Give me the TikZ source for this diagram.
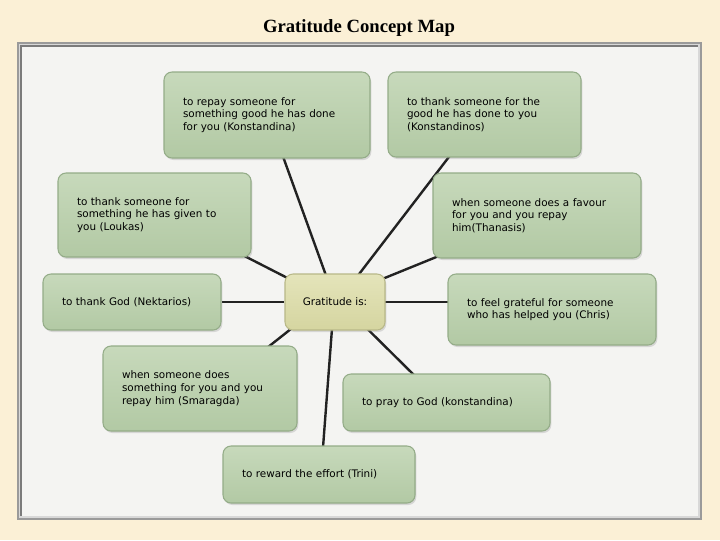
\documentclass[tikz,border=0pt]{standalone}
\usepackage{fontspec}
\setmainfont{DejaVu Sans}
\newfontfamily\titlefont{Liberation Serif}
\usetikzlibrary{calc,shadows,backgrounds}
\definecolor{parch}{HTML}{FBF0D6}
\definecolor{panelfill}{HTML}{F4F4F2}
\definecolor{frameout}{HTML}{9A9A9A}
\definecolor{framehi}{HTML}{D8D8D8}
\definecolor{gtop}{HTML}{C7D9BB}
\definecolor{gbot}{HTML}{B2C9A4}
\definecolor{gline}{HTML}{94AC88}
\definecolor{ytop}{HTML}{E4E4BA}
\definecolor{ybot}{HTML}{D5D5A0}
\definecolor{yline}{HTML}{B8B888}
\definecolor{conncol}{HTML}{222222}
\tikzset{
  gbox/.style={draw=gline, line width=0.8pt, rounded corners=6pt,
    top color=gtop, bottom color=gbot,
    drop shadow={opacity=0.25, shadow xshift=1pt, shadow yshift=-1.5pt},
    inner xsep=14.25pt, inner ysep=0pt, align=left, text=black},
  ybox/.style={gbox, draw=yline, top color=ytop, bottom color=ybot, align=center, inner xsep=2pt},
  conn/.style={draw=conncol, line width=1.8pt}
}
\begin{document}
\begin{tikzpicture}[x=0.75pt,y=-0.75pt,font=\fontsize{7.8}{9.5}\selectfont]
\useasboundingbox (0,0) rectangle (720,540);

\node[font=\titlefont\bfseries\fontsize{14}{16}\selectfont] (title) at (359,28) {Gratitude Concept Map};

% nodes
\node[gbox, minimum width=154.5pt, minimum height=64.5pt, text width=126pt] (a1) at (267,115)
  {to repay someone for\\something good he has done\\for you (Konstandina)};
\node[gbox, minimum width=144.75pt, minimum height=63.75pt, text width=116.25pt] (a2) at (484.5,114.5)
  {to thank someone for the\\good he has done to you\\(Konstandinos)};
\node[gbox, minimum width=144.75pt, minimum height=63pt, text width=116.25pt] (a3) at (154.5,215)
  {to thank someone for\\something he has given to\\you (Loukas)};
\node[gbox, minimum width=156pt, minimum height=63.75pt, text width=127.5pt] (a4) at (537,215.5)
  {when someone does a favour\\for you and you repay\\him(Thanasis)};
\node[gbox, minimum width=133.5pt, minimum height=42pt, text width=105pt] (a5) at (132,302)
  {to thank God (Nektarios)};
\node[ybox, minimum width=75pt, minimum height=42pt] (c) at (335,302)
  {Gratitude is:};
\node[gbox, minimum width=156pt, minimum height=53.25pt, text width=127.5pt] (a7) at (552,309.5)
  {to feel grateful for someone\\who has helped you (Chris)};
\node[gbox, minimum width=145.5pt, minimum height=63.75pt, text width=117pt] (a8) at (200,388.5)
  {when someone does\\something for you and you\\repay him (Smaragda)\\[2pt]};
\node[gbox, minimum width=155.25pt, minimum height=42.75pt, text width=126.75pt] (a9) at (446.5,402.5)
  {to pray to God (konstandina)};
\node[gbox, minimum width=144pt, minimum height=42.75pt, text width=115.5pt] (a10) at (319,474.5)
  {to reward the effort (Trini)};

\begin{scope}[on background layer]
  \fill[parch] (0,0) rectangle (720,540);
  \fill[frameout] (17,42) rectangle (702,520);
  \fill[framehi] (19,44) rectangle (700,518);
  \fill[panelfill] (21,46) rectangle (698,516);
  \draw[frameout!80!black, line width=1pt] (21,516) -- (21,46) -- (698,46);
  % connectors
  \draw[conn] ($(c.north)+(-9,2)$) -- ($(a1.south)+(16,-2)$);
  \draw[conn] ($(c.north)+(23,2)$) -- ($(a2.south)+(-34.5,-2)$);
  \draw[conn] ($(c.north west)+(2,4)$) -- ($(a3.south east)+(-8,-2)$);
  \draw[conn] ($(c.north east)+(-2,5)$) -- ($(a4.south west)+(5,-2)$);
  \draw[conn] (a5) -- (c);
  \draw[conn] ($(c.east)+(-2,0)$) -- ($(c.east -| a7.west)+(2,0)$);
  \draw[conn] ($(c.south west)+(7,-2)$) -- ($(a8.north east)+(-30,2)$);
  \draw[conn] ($(c.south)+(-3,-2)$) -- ($(a10.north)+(4,2)$);
  \draw[conn] ($(c.south)+(32,-2)$) -- ($(a9.north west)+(72,2)$);
\end{scope}
\end{tikzpicture}
\end{document}
